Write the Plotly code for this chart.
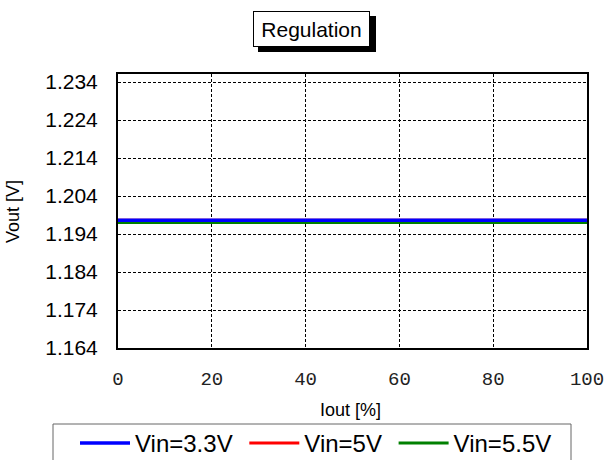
import plotly.graph_objects as go

# ---- data ----
iout_pct = [0, 10, 20, 30, 40, 50, 60, 70, 80, 90, 100]
vout_vin33 = [1.1976] * 11
vout_vin5 = [1.1976] * 11
vout_vin55 = [1.1970] * 11
series_names = ["Vin=3.3V", "Vin=5V", "Vin=5.5V"]
x_ticks = [0, 20, 40, 60, 80, 100]
y_ticks = [1.164, 1.174, 1.184, 1.194, 1.204, 1.214, 1.224, 1.234]
y_tick_labels = ["1.164", "1.174", "1.184", "1.194", "1.204", "1.214", "1.224", "1.234"]

W, H = 606, 460
ML, MR, MT, MB = 118, 19, 74, 112
PW, PH = W - ML - MR, H - MT - MB


def xp(px):
    return (px - ML) / PW


def yp(py):
    return (H - MB - py) / PH


NBSP = "\u00a0"
fig = go.Figure()
# drawn green first, blue last (on top)
fig.add_trace(go.Scatter(x=iout_pct, y=vout_vin55, mode="lines", name=series_names[2] + NBSP,
                         line=dict(color="#008000", width=3)))
fig.add_trace(go.Scatter(x=iout_pct, y=vout_vin5, mode="lines", name=series_names[1] + NBSP,
                         line=dict(color="#ff0000", width=3)))
fig.add_trace(go.Scatter(x=iout_pct, y=vout_vin33, mode="lines", name=series_names[0] + NBSP,
                         line=dict(color="#0000ff", width=3.5)))

fig.update_layout(
    width=W, height=H,
    margin=dict(l=ML, r=MR, t=MT, b=MB, pad=0, autoexpand=False),
    paper_bgcolor="white", plot_bgcolor="white",
    showlegend=True,
    legend=dict(
        orientation="h", traceorder="reversed",
        x=xp(75), xanchor="left", y=yp(421), yanchor="top",
        bgcolor="rgba(0,0,0,0)", borderwidth=0,
        font=dict(family="Liberation Sans", size=24, color="black"),
        itemwidth=50,
    ),
    xaxis=dict(
        range=[0, 100], tickvals=x_ticks, ticktext=[str(v) for v in x_ticks],
        showline=True, linecolor="black", linewidth=2, mirror=True,
        showgrid=True, gridcolor="black", gridwidth=1, griddash="3px,2px",
        zeroline=False, ticks="", ticklabelstandoff=12,
        tickfont=dict(family="Liberation Mono", size=19, color="#222222"),
    ),
    yaxis=dict(
        range=[1.164, 1.164 + 0.01 * PH / 38], tickvals=y_ticks, ticktext=y_tick_labels,
        showline=True, linecolor="black", linewidth=2, mirror=True,
        showgrid=True, gridcolor="black", gridwidth=1, griddash="3px,2px",
        zeroline=False, ticks="", ticklabelstandoff=14,
        tickfont=dict(family="Liberation Sans", size=21, color="black"),
    ),
    shapes=[
        # title box shadow
        dict(type="rect", xref="paper", yref="paper",
             x0=xp(258), x1=xp(376), y0=yp(52), y1=yp(16),
             fillcolor="black", line=dict(width=0), layer="above"),
        # legend frame
        dict(type="rect", xref="paper", yref="paper",
             x0=xp(53), x1=xp(571), y0=yp(470), y1=yp(424),
             fillcolor="rgba(0,0,0,0)", line=dict(color="#666666", width=1), layer="above"),
    ],
    annotations=[
        dict(text="Regulation", xref="paper", yref="paper", x=xp(311.5), y=yp(29),
             xanchor="center", yanchor="middle", showarrow=False,
             width=115, height=34, borderpad=0, bordercolor="black", borderwidth=1,
             bgcolor="white",
             font=dict(family="Liberation Sans", size=21, color="black")),
        dict(text="Iout [%]", xref="paper", yref="paper", x=xp(350), y=yp(410),
             xanchor="center", yanchor="middle", showarrow=False,
             font=dict(family="Liberation Sans", size=18, color="black")),
        dict(text="Vout [V]", xref="paper", yref="paper", x=xp(13), y=yp(212),
             xanchor="center", yanchor="middle", showarrow=False, textangle=-90,
             font=dict(family="Liberation Sans", size=18, color="black")),
    ],
)

fig.write_html("out.html", config={"displayModeBar": False},
               post_script="document.body.style.margin='0px';")
